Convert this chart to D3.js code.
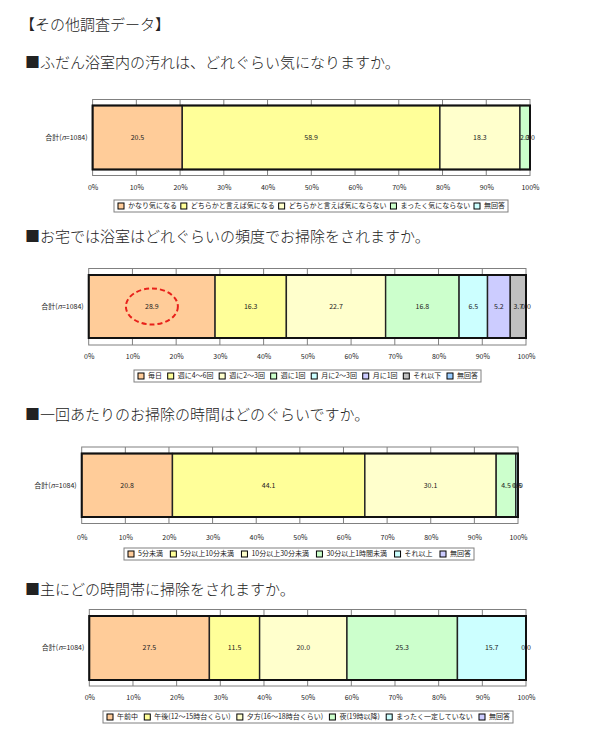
<!DOCTYPE html>
<html>
<head>
<meta charset="utf-8">
<script src="https://cdn.jsdelivr.net/npm/d3@7"></script>
<style>
  body { margin: 0; background: #fff; }
  text { font-family: "Noto Sans CJK JP", sans-serif; }
  .ttl { font-size: 15px; fill: #222; font-weight: 300; }
  .small { font-size: 7px; fill: #222; }
</style>
</head>
<body>
<svg id="page" width="599" height="734"></svg>
<script>
// colours used in every chart, in series order
var palette = ["#FFCC99", "#FFFF99", "#FFFFCC", "#CCFFCC", "#CCFFFF", "#CCCCFF", "#C0C0C0", "#99CCFF"];

var pctTicks = [0, 10, 20, 30, 40, 50, 60, 70, 80, 90, 100];

var title1 = "■ふだん浴室内の汚れは、どれぐらい気になりますか。";
var cats1 = ["かなり気になる", "どちらかと言えば気になる", "どちらかと言えば気にならない", "まったく気にならない", "無回答"];
var vals1 = [20.5, 58.9, 18.3, 2.3, 0.0];

var title2 = "■お宅では浴室はどれぐらいの頻度でお掃除をされますか。";
var cats2 = ["毎日", "週に4～6回", "週に2～3回", "週に1回", "月に2～3回", "月に1回", "それ以下", "無回答"];
var vals2 = [28.9, 16.3, 22.7, 16.8, 6.5, 5.2, 3.7, 0.0];

var title3 = "■一回あたりのお掃除の時間はどのぐらいですか。";
var cats3 = ["5分未満", "5分以上10分未満", "10分以上30分未満", "30分以上1時間未満", "それ以上", "無回答"];
var vals3 = [20.8, 44.1, 30.1, 4.5, 0.5, 0.0];

var title4 = "■主にどの時間帯に掃除をされますか。";
var cats4 = ["午前中", "午後(12～15時台くらい)", "夕方(16～18時台くらい)", "夜(19時以降)", "まったく一定していない", "無回答"];
var vals4 = [27.5, 11.5, 20.0, 25.3, 15.7, 0.0];

var svg = d3.select("#page");

svg.append("text").attr("class", "ttl")
  .attr("x", 20).attr("y", 30)
  .text("【その他調査データ】");

function drawChart(title, cats, vals, g) {
  svg.append("text").attr("class", "ttl")
    .attr("x", 25).attr("y", g.titleY)
    .text(title);

  var x = d3.scaleLinear().domain([0, 100]).range([g.left, g.right]);

  // stack the values
  var acc = 0;
  var segs = vals.map(function(v, i) {
    var s = {v: v, x0: acc, x1: acc + v, i: i};
    acc += v;
    return s;
  });

  // outer frame + tick marks
  svg.append("rect")
    .attr("x", g.left).attr("y", g.frameTop)
    .attr("width", g.right - g.left).attr("height", g.frameBot - g.frameTop)
    .attr("fill", "#fff").attr("stroke", "#808080").attr("stroke-width", 1);

  var axis = d3.axisBottom(x).tickValues(pctTicks)
    .tickFormat(function(d){ return d + "%"; })
    .tickSize(0).tickPadding(0);
  var ag = svg.append("g").attr("transform", "translate(0," + g.tickY + ")").call(axis);
  ag.select(".domain").remove();
  ag.selectAll("text").attr("class", "small").attr("font-size", null)
    .attr("font-family", null).attr("fill", "#222").attr("dy", "0.35em").attr("y", 0);

  svg.selectAll(null).data(pctTicks.slice(1, -1)).enter().append("path")
    .attr("d", function(d){
      return "M" + x(d) + "," + g.frameTop + "V" + g.barTop +
             "M" + x(d) + "," + g.barBot + "V" + g.frameBot;
    })
    .attr("stroke", "#808080").attr("stroke-width", 1);

  // bar segments
  svg.selectAll(null).data(segs).enter().append("rect")
    .attr("x", function(d){ return x(d.x0); })
    .attr("y", g.barTop)
    .attr("width", function(d){ return Math.max(0, x(Math.min(d.x1, 100)) - x(d.x0)); })
    .attr("height", g.barBot - g.barTop)
    .attr("fill", function(d){ return palette[d.i]; })
    .attr("stroke", "#222").attr("stroke-width", 1.4);

  svg.append("rect")
    .attr("x", g.left).attr("y", g.barTop)
    .attr("width", g.right - g.left).attr("height", g.barBot - g.barTop)
    .attr("fill", "none").attr("stroke", "#111").attr("stroke-width", 2);

  var midY = (g.barTop + g.barBot) / 2;
  svg.selectAll(null).data(segs).enter().append("text")
    .attr("class", "small")
    .attr("x", function(d){ return x(Math.min((d.x0 + d.x1) / 2, 100)); })
    .attr("y", midY).attr("dy", "0.35em")
    .attr("text-anchor", "middle")
    .text(function(d){ return d.v.toFixed(1); });

  // row label with italic n
  var rl = svg.append("text").attr("class", "small")
    .attr("x", g.left - 5).attr("y", midY).attr("dy", "0.35em")
    .attr("text-anchor", "end");
  rl.append("tspan").text("合計(");
  rl.append("tspan").attr("font-style", "italic").text("n");
  rl.append("tspan").text("=1084)");

  if (g.ellipse) {
    svg.append("ellipse")
      .attr("cx", x((segs[0].x0 + segs[0].x1) / 2)).attr("cy", midY)
      .attr("rx", 26).attr("ry", 18)
      .attr("fill", "none").attr("stroke", "#E8201A")
      .attr("stroke-width", 2).attr("stroke-dasharray", "5,3");
  }

  // legend
  var lg = svg.append("g");
  lg.append("rect")
    .attr("x", g.legLeft).attr("y", g.legTop)
    .attr("width", g.legRight - g.legLeft).attr("height", 12)
    .attr("fill", "#fff").attr("stroke", "#808080").attr("stroke-width", 1);
  var items = lg.selectAll(null).data(cats).enter().append("g");
  items.append("rect")
    .attr("width", 6).attr("height", 6).attr("y", g.legTop + 3)
    .attr("fill", function(d, i){ return palette[i]; })
    .attr("stroke", "#000").attr("stroke-width", 1);
  var labels = items.append("text").attr("class", "small")
    .attr("y", g.legTop + 6).attr("dy", "0.35em")
    .text(function(d){ return d; });
  var widths = [];
  labels.each(function(){ widths.push(this.getComputedTextLength() + 11); });
  var total = d3.sum(widths);
  var inner = g.legRight - g.legLeft - 6;
  var gap = (inner - total) / (cats.length - 1);
  var pos = g.legLeft + 4;
  items.each(function(d, i){
    d3.select(this).select("rect").attr("x", pos);
    d3.select(this).select("text").attr("x", pos + 10);
    pos += widths[i] + gap;
  });
}

drawChart(title1, cats1, vals1, {titleY: 68, left: 92.6, right: 530, frameTop: 99.5, barTop: 105.5,
  barBot: 169.5, frameBot: 175.5, tickY: 188, legTop: 200, legLeft: 114, legRight: 508});
drawChart(title2, cats2, vals2, {titleY: 242, left: 88.7, right: 526, frameTop: 268.5, barTop: 275,
  barBot: 338, frameBot: 345, tickY: 357, legTop: 370, legLeft: 134, legRight: 481, ellipse: true});
drawChart(title3, cats3, vals3, {titleY: 420, left: 81.7, right: 518, frameTop: 447, barTop: 453.5,
  barBot: 517, frameBot: 523.5, tickY: 538, legTop: 548, legLeft: 124, legRight: 474});
drawChart(title4, cats4, vals4, {titleY: 595, left: 89.3, right: 526, frameTop: 609.5, barTop: 616,
  barBot: 680, frameBot: 686, tickY: 698, legTop: 711, legLeft: 103, legRight: 513});
</script>
</body>
</html>
